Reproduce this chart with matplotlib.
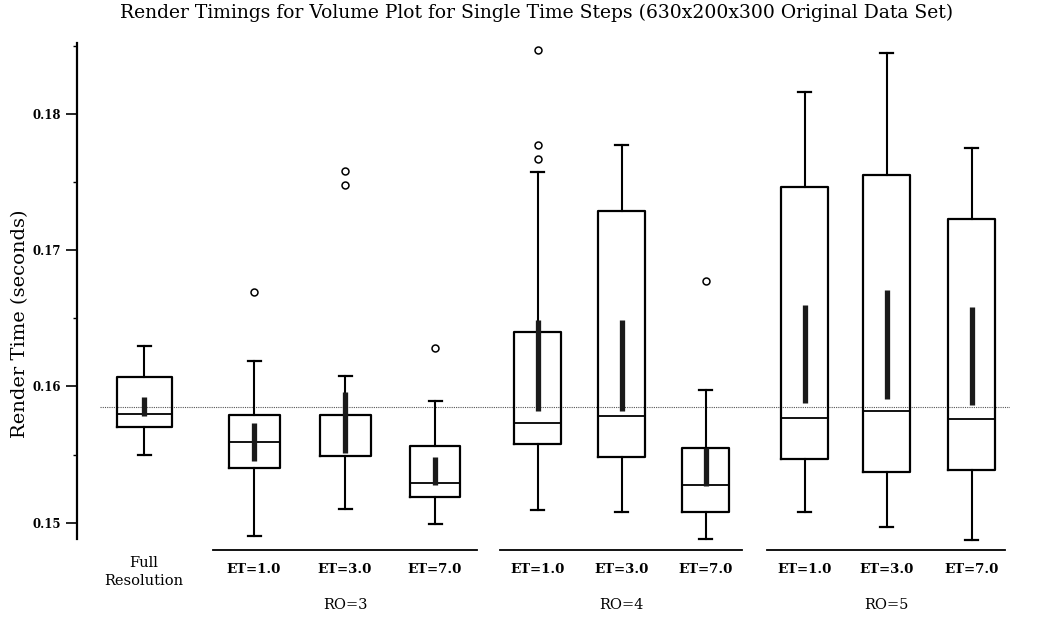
import matplotlib.pyplot as plt
from matplotlib.ticker import MultipleLocator

plt.rcParams['font.family'] = ['DejaVu Serif']

# box statistics (seconds)
labels = ["Full\nResolution", "ET=1.0", "ET=3.0", "ET=7.0",
          "ET=1.0", "ET=3.0", "ET=7.0", "ET=1.0", "ET=3.0", "ET=7.0"]
groups = ["RO=3", "RO=4", "RO=5"]
whis_lo = [0.1550, 0.1490, 0.1510, 0.1499, 0.1509, 0.1508, 0.1488, 0.1508, 0.1497, 0.1487]
q1 = [0.1570, 0.1540, 0.1549, 0.1519, 0.1558, 0.1548, 0.1508, 0.1547, 0.1537, 0.1539]
median = [0.1580, 0.1559, 0.1579, 0.1529, 0.1573, 0.1578, 0.1528, 0.1577, 0.1582, 0.1576]
q3 = [0.1607, 0.1579, 0.1579, 0.1556, 0.1640, 0.1729, 0.1555, 0.1746, 0.1755, 0.1723]
whis_hi = [0.1630, 0.1619, 0.1608, 0.1589, 0.1757, 0.1777, 0.1597, 0.1816, 0.1845, 0.1775]
outliers = [[], [0.1669], [0.1748, 0.1758], [0.1628],
            [0.1767, 0.1777, 0.1847], [], [0.1677], [], [], []]
# thick bar: interval around the mean
mean_lo = [0.1578, 0.1545, 0.1551, 0.1528, 0.1582, 0.1582, 0.1527, 0.1588, 0.1591, 0.1586]
mean_hi = [0.1592, 0.1573, 0.1596, 0.1548, 0.1649, 0.1649, 0.1555, 0.1660, 0.1671, 0.1658]
reference = 0.1585

# layout (x in hundreds of pixels)
positions = [1.44, 2.54, 3.45, 4.35, 5.38, 6.22, 7.06, 8.05, 8.87, 9.72]
widths = [0.55] + [0.51] * 3 + [0.47] * 6
group_span = [(2.13, 4.77), (5.00, 7.42), (7.67, 10.05)]

fig = plt.figure(figsize=(10.48, 6.19), dpi=100)
ax = fig.add_axes([0.0735, 0.1292, 0.8902, 0.8013])

stats = []
for i in range(len(labels)):
    stats.append({"whislo": whis_lo[i], "q1": q1[i], "med": median[i],
                  "q3": q3[i], "whishi": whis_hi[i], "fliers": outliers[i]})

parts = ax.bxp(stats, positions=positions, widths=widths, showfliers=True,
               boxprops=dict(color="black", linewidth=1.6),
               medianprops=dict(color="black", linewidth=1.3),
               whiskerprops=dict(color="black", linewidth=1.5),
               capprops=dict(color="black", linewidth=1.6),
               capwidths=0.13,
               flierprops=dict(marker="o", markersize=5, markerfacecolor="none",
                               markeredgecolor="black", markeredgewidth=1.1))
for key in ["whiskers", "caps"]:
    for ln in parts[key]:
        ln.set_clip_on(False)

ax.vlines(positions, mean_lo, mean_hi, color="#1a1a1a", linewidth=3.8, zorder=3)

ax.hlines(reference, 1.0, 10.1, color="#555555", linewidth=0.8,
          linestyle=(0, (1, 1)), zorder=1)

ax.set_xlim(0.77, 10.1)
ax.set_ylim(0.1488, 0.1852)
ax.yaxis.set_major_locator(MultipleLocator(0.01))
ax.yaxis.set_minor_locator(MultipleLocator(0.005))
ax.tick_params(axis="y", which="major", length=8, width=1.2, labelsize=8.5)
ax.tick_params(axis="y", which="minor", length=3, width=1)
ax.set_yticks([0.15, 0.16, 0.17, 0.18], ["0.15", "0.16", "0.17", "0.18"],
              fontweight="bold")
ax.set_xticks([])
for s in ["top", "right", "bottom"]:
    ax.spines[s].set_visible(False)
ax.spines["left"].set_linewidth(1.6)

trans = ax.get_xaxis_transform()
for i, lab in enumerate(labels):
    yy = -0.067 if i == 0 else -0.061
    ax.text(positions[i], yy, lab, transform=trans, ha="center", va="center",
            fontsize=10.5 if i == 0 else 9.6,
            fontweight="bold" if i else "normal", linespacing=1.35)
for g, (x0, x1) in zip(groups, group_span):
    ax.plot([x0, x1], [-0.023, -0.023], transform=trans, color="black",
            linewidth=1.3, clip_on=False)
    ax.text((x0 + x1) / 2, -0.133, g, transform=trans, ha="center",
            va="center", fontsize=10.5)

fig.text(0.512, 0.979,
         "Render Timings for Volume Plot for Single Time Steps (630x200x300 Original Data Set)",
         ha="center", va="center", fontsize=13.5)
fig.text(0.019, 0.4766, "Render Time (seconds)", rotation=90, ha="center",
         va="center", fontsize=14)

fig.savefig("out.png", dpi=100)
